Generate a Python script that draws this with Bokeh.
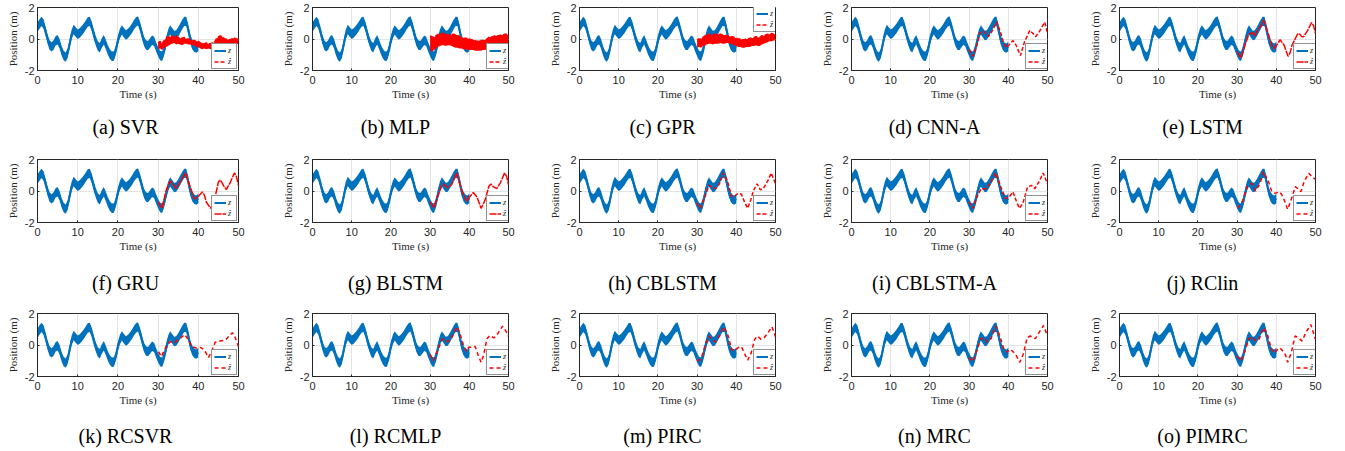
from bokeh.plotting import figure
from bokeh.layouts import column, row
from bokeh.models import Range1d, FixedTicker, Legend, LegendItem
from bokeh.core.properties import value
from bokeh.embed import file_html
from bokeh.resources import INLINE

# ---------------- data ----------------
x_ticks = [0, 10, 20, 30, 40, 50]
y_ticks = [-2, 0, 2]
y_tick_labels = ["-2", "0", "2"]

# measured position z (centre of the noisy band), 0..40 s every 0.5 s
z_t = [i * 0.5 for i in range(81)]
z_mid = [0.75, 0.95, 1.12, 0.95, 0.5, 0.0, -0.38, -0.5, -0.38, -0.12,
         -0.05, -0.3, -0.75, -1.05, -1.15, -0.9, -0.3, 0.3, 0.6, 0.45,
         0.3, 0.38, 0.52, 0.68, 0.88, 1.08, 1.12, 0.8, 0.3, -0.12,
         -0.45, -0.55, -0.25, -0.05, -0.35, -0.7, -0.95, -1.1, -1.08, -0.7,
         -0.1, 0.35, 0.58, 0.4, 0.26, 0.35, 0.5, 0.68, 0.9, 1.08,
         1.15, 0.8, 0.3, -0.15, -0.38, -0.42, -0.25, -0.08, -0.15, -0.5,
         -0.8, -1.05, -1.1, -0.75, -0.2, 0.3, 0.58, 0.4, 0.22, 0.25,
         0.45, 0.68, 0.92, 1.12, 1.12, 0.6, 0.0, -0.35, -0.52, -0.58,
         -0.48]
z_noise_half = 0.3  # half thickness of the noise band

# noisy predictions (band envelopes), 30..50 s every 0.5 s
band_t = [30 + i * 0.5 for i in range(41)]
svr_lo = [-0.65, -0.6, -0.7, -0.55, -0.5, -0.45, -0.35, -0.3, -0.25, -0.35, -0.3, -0.35, -0.4, -0.3,
          -0.3, -0.35, -0.35, -0.4, -0.4, -0.5, -0.5, -0.6, -0.65, -0.6, -0.65, -0.6, -0.65, -0.6,
          -0.6, -0.5, -0.4, -0.35, -0.35, -0.5, -0.55, -0.5, -0.5, -0.55, -0.45, -0.35, -0.3]
svr_hi = [-0.25, -0.15, -0.3, -0.1, 0.05, 0.15, 0.15, 0.2, 0.1, 0.2, 0.1, 0.05, 0.05, 0.1,
          0.0, 0.0, -0.05, -0.1, -0.1, -0.15, -0.15, -0.25, -0.25, -0.3, -0.25, -0.3, -0.3, -0.25,
          -0.2, 0.0, 0.15, 0.2, 0.15, 0.0, 0.0, -0.05, -0.05, 0.05, 0.05, 0.0, 0.0]
mlp_lo = [-0.75, -0.8, -0.7, -0.6, -0.5, -0.45, -0.4, -0.4, -0.45, -0.4, -0.4, -0.45, -0.5, -0.55,
          -0.55, -0.6, -0.6, -0.65, -0.65, -0.7, -0.7, -0.7, -0.7, -0.75, -0.75, -0.75, -0.75, -0.7,
          -0.7, -0.65, -0.6, -0.55, -0.55, -0.5, -0.5, -0.45, -0.35, -0.35, -0.3, -0.3, -0.25]
mlp_hi = [0.2, 0.15, 0.1, 0.2, 0.3, 0.3, 0.35, 0.35, 0.3, 0.25, 0.25, 0.3, 0.3, 0.25,
          0.25, 0.15, 0.1, 0.05, 0.05, 0.05, 0.0, -0.05, -0.05, -0.1, -0.15, -0.1, -0.1, -0.1,
          -0.05, 0.0, 0.1, 0.15, 0.15, 0.2, 0.2, 0.2, 0.25, 0.25, 0.3, 0.3, 0.25]
gpr_lo = [-0.55, -0.5, -0.55, -0.45, -0.4, -0.35, -0.3, -0.3, -0.35, -0.3, -0.3, -0.3, -0.25, -0.3,
          -0.3, -0.25, -0.25, -0.3, -0.35, -0.4, -0.45, -0.5, -0.5, -0.55, -0.55, -0.5, -0.5, -0.5,
          -0.45, -0.45, -0.4, -0.45, -0.45, -0.35, -0.3, -0.25, -0.2, -0.15, -0.15, -0.1, -0.1]
gpr_hi = [-0.05, 0.0, 0.0, 0.1, 0.2, 0.25, 0.3, 0.25, 0.25, 0.3, 0.3, 0.3, 0.3, 0.25,
          0.25, 0.2, 0.2, 0.15, 0.15, 0.1, 0.05, 0.0, 0.0, -0.05, -0.05, 0.0, 0.0, 0.05,
          0.05, 0.1, 0.15, 0.1, 0.1, 0.2, 0.2, 0.25, 0.3, 0.3, 0.35, 0.3, 0.3]

# smooth predictions
cnna_t = [30, 31, 32, 32.8, 33.7, 34.9, 36, 37, 38, 38.7, 39.5, 40.3, 41.2, 42, 43.1, 44.1, 45.5, 46.3, 47, 48, 49.3, 50]
cnna_y = [-0.67, -1.1, -0.4, 0.4, 0.5, 0.15, 0.55, 1.1, 0.45, -0.15, -0.55, -0.35, -0.1, -0.4, -1.05, -0.2, 0.55, 0.35, 0.15, 0.5, 1.07, 0.38]
lstm_t = [30, 31, 32, 33, 34, 34.5, 35, 36, 36.8, 38, 39, 39.5, 40.2, 41, 42, 43, 43.5, 44, 45, 45.5, 46, 46.5, 47, 48, 49, 49.5, 50]
lstm_y = [-0.8, -1.2, -0.4, 0.3, 0.4, 0.2, 0.45, 0.8, 1.2, 0.3, -0.5, -0.6, -0.35, -0.05, -0.4, -1.1, -0.9, -0.4, 0.1, 0.35, 0.3, 0.15, 0.15, 0.55, 1.05, 0.85, 0.35]
gru_t = [30, 31, 32, 33, 34, 34.5, 35.5, 36.8, 38, 39, 40, 41, 41.5, 42, 43, 44, 45, 45.5, 46.5, 47, 48, 49, 49.5, 50]
gru_y = [-0.7, -1.1, 0.05, 0.63, 0.35, 0.15, 0.57, 1.15, 0.25, -0.5, -0.35, -0.06, -0.25, -0.7, -1.1, -0.6, 0.57, 0.7, 0.25, 0.1, 0.57, 1.15, 0.9, 0.35]
blstm_t = [30, 31, 32, 33, 33.5, 34, 34.5, 35.5, 36.8, 38, 39, 39.5, 40, 41, 42, 43, 44, 45, 45.5, 46, 47, 48, 49, 49.5, 50]
blstm_y = [-0.7, -1.05, -0.3, 0.35, 0.45, 0.3, 0.2, 0.4, 1.15, 0.1, -0.5, -0.65, -0.4, -0.1, -0.4, -1.1, -0.6, 0.3, 0.45, 0.3, 0.15, 0.55, 1.15, 0.95, 0.4]
cblstm_t = [30, 30.7, 32, 33, 33.8, 34.7, 35.7, 36.7, 37.7, 38.8, 39.7, 40.5, 41.3, 42.1, 42.9, 43.7, 44.4, 45.3, 46.1, 46.9, 48.1, 48.9, 50]
cblstm_y = [-0.76, -1.1, -0.38, 0.36, 0.25, 0.15, 0.46, 1.14, 0.67, -0.34, -0.3, -0.15, -0.2, -0.7, -1.1, -0.55, 0.04, 0.46, 0.08, 0.15, 0.67, 1.14, 0.46]
cblstma_t = [30, 31, 32.2, 33.1, 34.4, 35.6, 36.8, 38.1, 39.3, 40.2, 41.2, 42, 42.8, 43.7, 44.9, 45.9, 46.8, 48, 48.9, 50]
cblstma_y = [-0.7, -1.1, -0.27, 0.15, 0.15, 0.57, 1.14, 0.25, -0.48, -0.38, -0.06, -0.6, -1.1, -0.8, 0.25, 0.36, 0.15, 0.67, 1.14, 0.46]
rclin_t = [30.1, 31.3, 32.6, 33.8, 34.7, 35.9, 36.7, 38, 38.8, 39.6, 40.9, 41.7, 42.9, 44.2, 44.8, 45.4, 46.3, 47.1, 48.3, 49.2, 50]
rclin_y = [-1.1, -0.68, 0.28, 0.5, 0.0, 0.5, 1.23, 0.6, 0.0, -0.15, -0.05, -0.36, -1.17, -0.26, 0.28, 0.17, -0.04, 0.6, 1.13, 0.87, 0.74]
rcsvr_t = [30.1, 30.8, 32.2, 33, 34.2, 35.5, 36.6, 37.6, 38.4, 39.6, 40.5, 41.5, 42.5, 43.1, 44.2, 45.4, 46.7, 47.9, 48.5, 49.2, 50]
rcsvr_y = [-0.42, -0.74, 0.0, 0.2, 0.17, 0.42, 0.67, 0.3, -0.1, -0.2, -0.15, -0.3, -0.8, -0.53, 0.17, 0.25, 0.3, 0.63, 0.78, 0.46, -0.1]
rcmlp_t = [30, 30.8, 32, 33, 33.7, 34.5, 35.5, 36.8, 37.6, 38.5, 39.3, 39.8, 40.5, 41.5, 42.2, 43, 43.7, 44.5, 45.2, 46.3, 47.2, 48.5, 49.3, 50]
rcmlp_y = [-0.6, -1.0, -0.3, 0.3, 0.4, 0.2, 0.45, 1.15, 0.75, 0.0, -0.4, -0.15, -0.15, -0.1, -0.6, -1.1, -0.6, 0.4, 0.6, 0.45, 0.7, 1.2, 0.9, 0.55]
pirc_t = [30, 31, 32, 33, 33.8, 34.7, 35.7, 36.7, 37.7, 38.8, 39.7, 40.4, 41.3, 42.2, 42.9, 43.8, 44.7, 45.4, 46.3, 47.1, 48.1, 49.1, 50]
pirc_y = [-1.0, -0.9, -0.06, 0.57, 0.36, 0.2, 0.57, 1.14, 0.78, -0.27, -0.38, -0.17, -0.1, -0.6, -0.97, -0.5, 0.36, 0.57, 0.36, 0.46, 0.78, 1.16, 0.53]
mrc_t = [30, 31, 32, 33, 34, 34.6, 35.6, 36.8, 37.8, 38.8, 39.6, 40.6, 41.9, 42.9, 43.8, 44.8, 45.6, 46.9, 48.1, 49, 50]
mrc_y = [-0.8, -1.05, -0.3, 0.4, 0.45, 0.2, 0.4, 1.2, 0.6, -0.2, -0.45, -0.27, -0.6, -1.1, -0.6, 0.46, 0.57, 0.4, 0.9, 1.24, 0.57]
pimrc_t = [30, 31, 32, 33, 34, 34.5, 35.5, 36.8, 37.8, 38.8, 39.6, 40.7, 41.3, 42.3, 42.9, 43.8, 44.8, 45.6, 46.6, 47.5, 48.8, 50]
pimrc_y = [-0.7, -1.0, -0.4, 0.4, 0.5, 0.3, 0.3, 1.1, 0.6, -0.3, -0.5, -0.17, -0.27, -0.6, -1.1, -0.5, 0.57, 0.46, 0.25, 0.78, 1.3, 0.36]

captions = ["(a) SVR", "(b) MLP", "(c) GPR", "(d) CNN-A", "(e) LSTM",
            "(f) GRU", "(g) BLSTM", "(h) CBLSTM", "(i) CBLSTM-A", "(j) RClin",
            "(k) RCSVR", "(l) RCMLP", "(m) PIRC", "(n) MRC", "(o) PIMRC"]

panels = [
    ("band", band_t, svr_lo, svr_hi, "low"),
    ("band", band_t, mlp_lo, mlp_hi, "low"),
    ("band", band_t, gpr_lo, gpr_hi, "high"),
    ("line", cnna_t, cnna_y, "4 2", "low"),
    ("line", lstm_t, lstm_y, "7 1", "low"),
    ("line", gru_t, gru_y, "7 1", "low"),
    ("line", blstm_t, blstm_y, "7 1", "low"),
    ("line", cblstm_t, cblstm_y, "4 2", "low"),
    ("line", cblstma_t, cblstma_y, "4 2", "low"),
    ("line", rclin_t, rclin_y, "4 3", "low"),
    ("line", rcsvr_t, rcsvr_y, "4 3", "low"),
    ("line", rcmlp_t, rcmlp_y, "4 3", "low"),
    ("line", pirc_t, pirc_y, "4 3", "low"),
    ("line", mrc_t, mrc_y, "4 3", "low"),
    ("line", pimrc_t, pimrc_y, "4 3", "low"),
]

# ---------------- layout / style ----------------
BLUE = "#0072BD"
RED = "#FF0000"
DARK = "#262626"
GRID = "#e3e3e3"
COL_W = [278, 267, 272, 268, 258]
COL_BL = [37, 29, 29, 29, 29]
FRAME_W = 201
FRAME_H = 63
BORDER_T = 7
BORDER_B = 42
CAP_H = [40, 42, 31]        # height of the caption strips
CAP_CY = [14, 18, 17]       # caption centre inside its strip (px from top)
CAP_REL_X = 88              # caption centre, px right of the frame's left edge
LEG_W = 25
LEG_H = 24

z_lo = [v - z_noise_half for v in z_mid]
z_hi = [v + z_noise_half for v in z_mid]


def make_panel(idx):
    r, c = divmod(idx, 5)
    W = COL_W[c]
    H = BORDER_T + FRAME_H + BORDER_B
    p = figure(width=W, height=H, x_range=Range1d(0, 50), y_range=Range1d(-2, 2),
               output_backend="svg", toolbar_location=None,
               min_border_left=COL_BL[c], min_border_right=W - COL_BL[c] - FRAME_W,
               min_border_top=BORDER_T, min_border_bottom=BORDER_B)
    p.background_fill_color = "white"
    p.border_fill_color = "white"
    p.outline_line_color = DARK
    p.outline_line_width = 1

    xt = FixedTicker(ticks=x_ticks)
    yt = FixedTicker(ticks=y_ticks)
    xa, ya = p.xaxis[0], p.yaxis[0]
    xa.ticker = xt
    ya.ticker = yt
    p.xgrid.ticker = xt
    p.ygrid.ticker = yt
    ya.major_label_overrides = {t: s for t, s in zip(y_ticks, y_tick_labels)}
    p.xgrid.grid_line_color = GRID
    p.ygrid.grid_line_color = GRID
    xa.axis_label = "Time (s)"
    ya.axis_label = "Position (m)"
    for ax in (xa, ya):
        ax.axis_label_text_font = "Liberation Serif"
        ax.axis_label_text_font_size = "11px"
        ax.axis_label_text_font_style = "normal"
        ax.axis_label_text_color = DARK
        ax.major_label_text_font = "Liberation Sans"
        ax.major_label_text_font_size = "11px"
        ax.major_label_text_color = DARK
        ax.axis_line_color = DARK
        ax.major_tick_line_color = DARK
        ax.major_tick_in = 2
        ax.major_tick_out = 0
        ax.minor_tick_line_color = None
    xa.major_label_standoff = 5
    xa.axis_label_standoff = 1
    ya.major_label_standoff = 3
    ya.axis_label_standoff = 3

    # measured signal
    p.varea(x=z_t, y1=z_lo, y2=z_hi, fill_color=BLUE, fill_alpha=1)
    r_z = p.line(z_t, z_mid, line_color=BLUE, line_width=2)

    spec = panels[idx]
    if spec[0] == "band":
        _, t, lo, hi, legpos = spec
        p.varea(x=t, y1=lo, y2=hi, fill_color=RED, fill_alpha=1)
        r_hat = p.line(t, hi, line_color=RED, line_width=1.5, line_dash="4 2")
    else:
        _, t, y, dash, legpos = spec
        r_hat = p.line(t, y, line_color=RED, line_width=1.5, line_dash=dash)

    if legpos == "low":
        loc = (FRAME_W - LEG_W - 2, 1)
    else:
        loc = (FRAME_W - LEG_W - 2, FRAME_H - LEG_H - 1)
    leg = Legend(items=[LegendItem(label="z", renderers=[r_z]),
                        LegendItem(label="\u1e91", renderers=[r_hat])],
                 location=loc, margin=0, padding=2, spacing=2,
                 glyph_width=12, glyph_height=9, label_width=6, label_height=9,
                 label_standoff=2, label_text_font="Liberation Serif",
                 label_text_font_style="italic", label_text_font_size="8px",
                 label_text_color=DARK, border_line_color=DARK, border_line_width=1,
                 background_fill_color="white", background_fill_alpha=1)
    p.add_layout(leg)
    return p


def make_caption_strip(r):
    total_w = sum(COL_W)
    h = CAP_H[r]
    cs = figure(width=total_w, height=h, x_range=Range1d(0, total_w), y_range=Range1d(h, 0),
                output_backend="svg", toolbar_location=None, x_axis_type=None, y_axis_type=None,
                min_border=0, min_border_left=0, min_border_right=0,
                min_border_top=0, min_border_bottom=0)
    cs.outline_line_color = None
    cs.xgrid.visible = False
    cs.ygrid.visible = False
    xs, txt = [], []
    left = 0
    for c in range(5):
        xs.append(left + COL_BL[c] + CAP_REL_X)
        txt.append(captions[r * 5 + c])
        left += COL_W[c]
    cs.text(x=xs, y=[CAP_CY[r]] * 5, text=txt, text_align="center", text_baseline="middle",
            text_font=value("Liberation Serif"), text_font_size=value("20px"), text_color="black")
    return cs


figs = [make_panel(i) for i in range(15)]
items = []
for k in range(3):
    items.append(row(*figs[k * 5:(k + 1) * 5]))
    items.append(make_caption_strip(k))
layout = column(*items)

open("out.html", "w").write(file_html(layout, INLINE))
